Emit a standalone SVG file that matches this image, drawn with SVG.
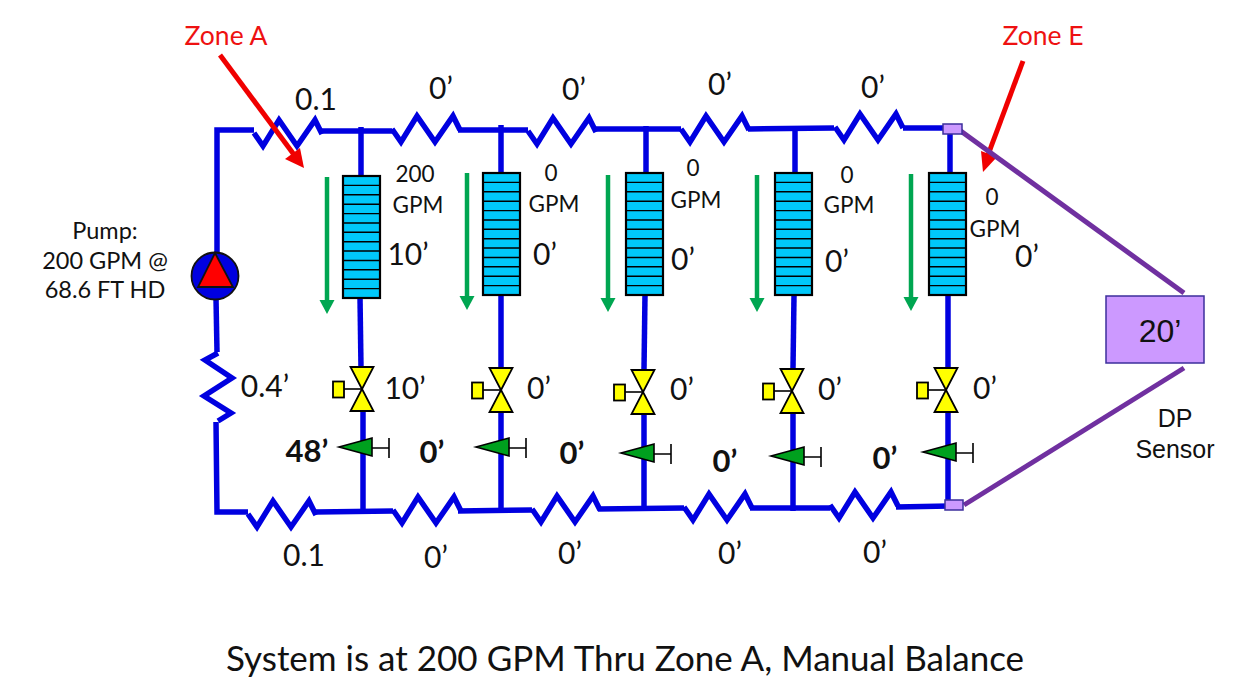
<svg xmlns="http://www.w3.org/2000/svg" xmlns:xlink="http://www.w3.org/1999/xlink" width="1251" height="678" viewBox="0 0 1251 678">
<style>
text{font-family:"Lato","Open Sans","Liberation Sans",sans-serif;fill:#111;text-anchor:middle}
.a{font-family:"Liberation Sans",Arial,sans-serif}
.s{font-size:30px}.g{font-size:22.5px}.b{font-size:31px;font-weight:700}.r{fill:#ee1111;font-size:26.5px}.u{font-size:23.5px}
.p{fill:none;stroke:#0000e0;stroke-width:5.5;stroke-linejoin:miter}
.dp{fill:none;stroke:#7030a0;stroke-width:5}
.box{fill:#cc99ff;stroke:#3c2f9c;stroke-width:1.5}
</style>
<defs>
<polyline id="res" class="p" points="0,0 9,13 25,-13 43,13 61,-13 68,1"/>
<g id="coil">
<rect x="0" y="0" width="37" height="122" fill="#00c8fa" stroke="#000" stroke-width="2.2"/>
<path d="M0 9.4H37M0 18.8H37M0 28.2H37M0 37.6H37M0 47H37M0 56.3H37M0 65.7H37M0 75H37M0 84.5H37M0 93.8H37M0 103.2H37M0 112.6H37" stroke="#000" stroke-width="1.4" fill="none"/>
</g>
<g id="flow">
<path d="M0 0V124" stroke="#00a651" stroke-width="4.5" fill="none"/>
<polygon points="-7.5,123 7.5,123 0,137" fill="#00a651"/>
</g>
<g id="valve">
<polygon points="-11.5,-22 11.5,-22 0,0 11.5,22 -11.5,22 0,0" fill="#ffff00" stroke="#000" stroke-width="1.8"/>
<path d="M0 0H-18" stroke="#000" stroke-width="1.6"/>
<rect x="-29" y="-7.5" width="11" height="16" fill="#ffff00" stroke="#000" stroke-width="1.8"/>
</g>
<g id="check">
<polygon points="0,0 33,-9 33,9" fill="#00a01e" stroke="#000" stroke-width="1.6"/>
<path d="M33 1H50M50 -9V11" stroke="#000" stroke-width="1.6" fill="none"/>
</g>
</defs>

<g id="connectors">
<polyline class="p" points="217,262 217,130 254,130"/>
<polyline class="p" points="322,131 392,131"/>
<polyline class="p" points="458,130 528,130"/>
<polyline class="p" points="595,129 681,129"/>
<polyline class="p" points="748,129 834,128"/>
<polyline class="p" points="903,128 950,128"/>
<use xlink:href="#res" x="254" y="133"/>
<use xlink:href="#res" x="392" y="129"/>
<use xlink:href="#res" x="528" y="131"/>
<use xlink:href="#res" x="681" y="129"/>
<use xlink:href="#res" x="835" y="127"/>
<polyline class="p" points="216,298 217,352"/>
<polyline class="p" points="218,353 205,360 232,378 204,396 231,413 218,421"/>
<polyline class="p" points="216,422 217,512 248,512"/>
<polyline class="p" points="316,512 393,511"/>
<polyline class="p" points="458,511 532,510"/>
<polyline class="p" points="598,509 684,508"/>
<polyline class="p" points="750,508 830,508"/>
<polyline class="p" points="896,507 950,506"/>
<use xlink:href="#res" x="248" y="514"/>
<use xlink:href="#res" x="393" y="510"/>
<use xlink:href="#res" x="532" y="509"/>
<use xlink:href="#res" x="684" y="507"/>
<use xlink:href="#res" x="830" y="505"/>
<polyline class="p" points="361,127 361,177"/><polyline class="p" points="360,297 361,368"/><polyline class="p" points="363,412 363,513"/>
<polyline class="p" points="501,125 501,173"/><polyline class="p" points="501,295 501,368"/><polyline class="p" points="501,413 501,512"/>
<polyline class="p" points="646,126 646,174"/><polyline class="p" points="645,295 644,369"/><polyline class="p" points="644,414 644,510"/>
<polyline class="p" points="795,126 795,174"/><polyline class="p" points="794,296 793,368"/><polyline class="p" points="793,414 793,511"/>
<polyline class="p" points="950,124 950,173"/><polyline class="p" points="948,295 948,367"/><polyline class="p" points="948,413 948,506"/>
<g id="zone-arrows">
<path d="M220 55L295 156" stroke="#f00000" stroke-width="5" fill="none"/>
<polygon points="304,168 285,159 300,148" fill="#f00000"/>
<path d="M1023 61L988 155" stroke="#f00000" stroke-width="5" fill="none"/>
<polygon points="983,172 981,151 997,157" fill="#f00000"/>
</g>
<polyline class="dp" points="958,129 1184,293"/>
<polyline class="dp" points="964,505 1184,368"/>
</g>

<g id="pump">
<circle cx="215" cy="276" r="23.5" fill="#0000e0" stroke="#111" stroke-width="1.8"/>
<polygon points="215,253 198,287 233,287" fill="#ff0000" stroke="#111" stroke-width="1.8"/>
<text class="u" x="105" y="239">Pump:</text>
<text class="u" x="105" y="269">200 GPM @</text>
<text class="u" x="105" y="298">68.6 FT HD</text>
</g>

<g id="zone-a">
<use xlink:href="#coil" x="343" y="176"/><use xlink:href="#flow" x="327" y="177"/><use xlink:href="#valve" x="362" y="389"/><use xlink:href="#check" x="339" y="447"/>
<text class="g" x="415" y="182">200</text><text class="g" x="418" y="213">GPM</text><text class="s" x="408" y="265">10’</text><text class="s" x="405" y="399">10’</text><text class="b" x="307" y="462">48’</text>
</g>
<g id="zone-b">
<use xlink:href="#coil" x="483" y="173"/><use xlink:href="#flow" x="467" y="173"/><use xlink:href="#valve" x="501" y="390"/><use xlink:href="#check" x="476" y="447"/>
<text class="g" x="551" y="181">0</text><text class="g" x="554" y="212">GPM</text><text class="s" x="545" y="265">0’</text><text class="s" x="539" y="399">0’</text><text class="b" x="432" y="463">0’</text>
</g>
<g id="zone-c">
<use xlink:href="#coil" x="626" y="173"/><use xlink:href="#flow" x="608" y="175"/><use xlink:href="#valve" x="643" y="392"/><use xlink:href="#check" x="621" y="453"/>
<text class="g" x="693" y="176">0</text><text class="g" x="696" y="208">GPM</text><text class="s" x="683" y="270">0’</text><text class="s" x="682" y="400">0’</text><text class="b" x="572" y="464">0’</text>
</g>
<g id="zone-d">
<use xlink:href="#coil" x="775" y="173"/><use xlink:href="#flow" x="757" y="175"/><use xlink:href="#valve" x="792" y="391"/><use xlink:href="#check" x="771" y="456"/>
<text class="g" x="847" y="183">0</text><text class="g" x="849" y="213">GPM</text><text class="s" x="837" y="272">0’</text><text class="s" x="830" y="400">0’</text><text class="b" x="725" y="472">0’</text>
</g>
<g id="zone-e">
<use xlink:href="#coil" x="929" y="173"/><use xlink:href="#flow" x="911" y="174"/><use xlink:href="#valve" x="946" y="390"/><use xlink:href="#check" x="923" y="452"/>
<text class="g" x="992" y="205">0</text><text class="g" x="995" y="237">GPM</text><text class="s" x="1027" y="267">0’</text><text class="s" x="985" y="399">0’</text><text class="b" x="885" y="469">0’</text>
</g>

<g id="dp-sensor">
<rect class="box" x="943" y="124" width="19" height="10"/>
<rect class="box" x="945" y="500" width="18" height="10"/>
<rect class="box" x="1106" y="296" width="98" height="67" stroke-width="2"/>
<text class="a" x="1160" y="342" font-size="32">20’</text>
<text class="a" x="1175" y="427" font-size="25">DP</text>
<text class="a" x="1175" y="458" font-size="25">Sensor</text>
</g>

<g id="pipe-labels">
<text class="s" x="316" y="110">0.1</text><text class="s" x="441" y="99">0’</text><text class="s" x="574" y="100">0’</text><text class="s" x="720" y="95">0’</text><text class="s" x="873" y="98">0’</text>
<text class="s" x="265" y="397">0.4’</text>
<text class="s" x="304" y="566">0.1</text><text class="s" x="436" y="568">0’</text><text class="s" x="570" y="564">0’</text><text class="s" x="730" y="564">0’</text><text class="s" x="875" y="563">0’</text>
</g>

<text class="r" x="226" y="45">Zone A</text>
<text class="r" x="1043" y="45">Zone E</text>
<text id="title" x="625" y="671" font-size="35">System is at 200 GPM Thru Zone A, Manual Balance</text>
</svg>
